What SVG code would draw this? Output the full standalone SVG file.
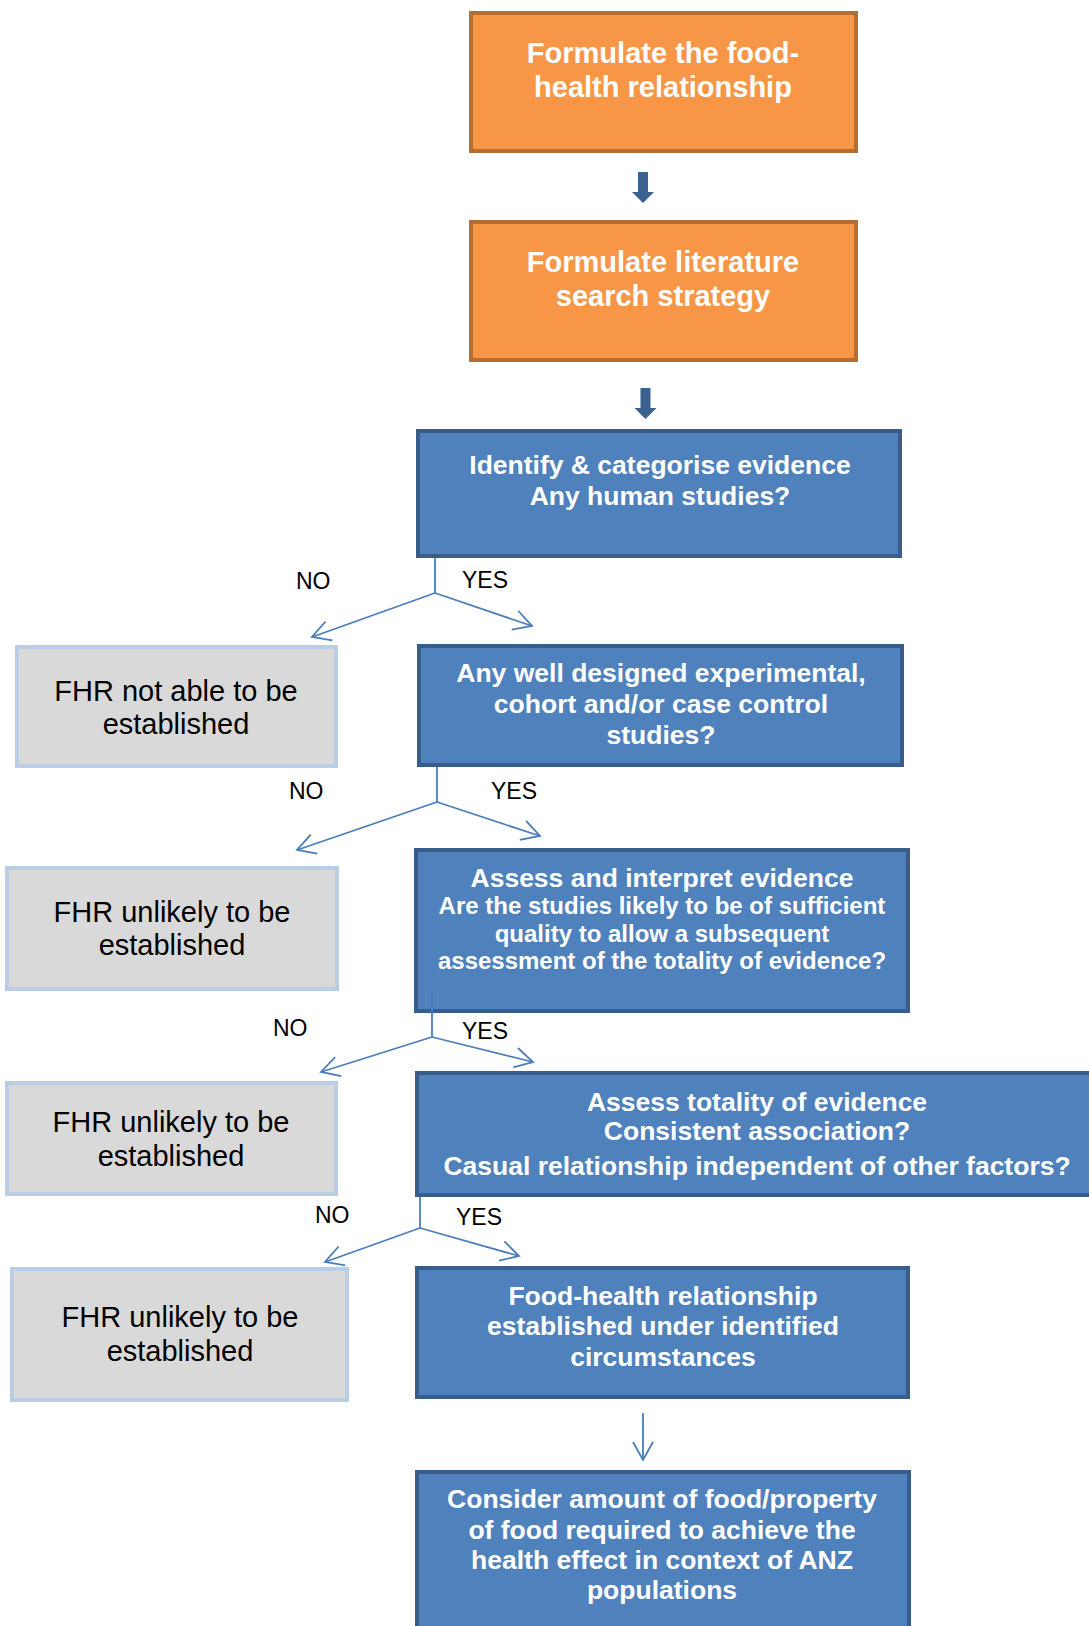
<svg xmlns="http://www.w3.org/2000/svg" width="1089" height="1626" viewBox="0 0 1089 1626">
<style>
text{font-family:"Liberation Sans",Arial,sans-serif}
.or{fill:#F79646;stroke:#B66D31;stroke-width:4}
.bl{fill:#4F81BD;stroke:#385D8A;stroke-width:4}
.gr{fill:#D9D9D9;stroke:#B9CDE5;stroke-width:4}
.wt{fill:#FFFFFF;font-weight:bold;text-anchor:middle}
.t29{font-size:29px}
.t26{font-size:26.5px}
.t24{font-size:24px}
.gt{fill:#000000;font-size:29px;text-anchor:middle}
.lb{fill:#000000;font-size:23px}
.cn{fill:none;stroke:#4A7EBB;stroke-width:1.8}
.big{fill:#3B6190}
</style>
<defs>
<marker id="ah" viewBox="0 0 22 22" refX="20" refY="11" markerWidth="22" markerHeight="22" markerUnits="userSpaceOnUse" orient="auto">
<path d="M2,1 L20,11 L2,21" fill="none" stroke="#4A7EBB" stroke-width="1.8"/>
</marker>
</defs>
<rect width="1089" height="1626" fill="#FFFFFF"/>

<g id="n1">
<rect class="or" x="471" y="13" width="385" height="138"/>
<text class="wt t29" x="663" y="63">Formulate the food-</text>
<text class="wt t29" x="663" y="97">health relationship</text>
</g>
<g id="n2">
<rect class="or" x="471" y="222" width="385" height="138"/>
<text class="wt t29" x="663" y="272">Formulate literature</text>
<text class="wt t29" x="663" y="306">search strategy</text>
</g>
<g id="n3">
<rect class="bl" x="418" y="431" width="482" height="125"/>
<text class="wt t26" x="660" y="474">Identify &amp; categorise evidence</text>
<text class="wt t26" x="660" y="505">Any human studies?</text>
</g>
<g id="n4">
<rect class="gr" x="17" y="647" width="319" height="119"/>
<text class="gt" x="176" y="701">FHR not able to be</text>
<text class="gt" x="176" y="734">established</text>
</g>
<g id="n5">
<rect class="bl" x="419" y="646" width="483" height="119"/>
<text class="wt t26" x="661" y="682">Any well designed experimental,</text>
<text class="wt t26" x="661" y="713">cohort and/or case control</text>
<text class="wt t26" x="661" y="744">studies?</text>
</g>
<g id="n6">
<rect class="gr" x="7" y="868" width="330" height="121"/>
<text class="gt" x="172" y="922">FHR unlikely to be</text>
<text class="gt" x="172" y="955">established</text>
</g>
<g id="n7">
<rect class="bl" x="416" y="850" width="492" height="161"/>
<text class="wt t26" x="662" y="887">Assess and interpret evidence</text>
<text class="wt t24" x="662" y="914">Are the studies likely to be of sufficient</text>
<text class="wt t24" x="662" y="942">quality to allow a subsequent</text>
<text class="wt t24" x="662" y="969">assessment of the totality of evidence?</text>
</g>
<g id="n8">
<rect class="gr" x="7" y="1083" width="329" height="111"/>
<text class="gt" x="171" y="1132">FHR unlikely to be</text>
<text class="gt" x="171" y="1166">established</text>
</g>
<g id="n9">
<rect class="bl" x="417" y="1073" width="680" height="122"/>
<text class="wt t26" x="757" y="1111">Assess totality of evidence</text>
<text class="wt t26" x="757" y="1140">Consistent association?</text>
<text class="wt t26" x="757" y="1175">Casual relationship independent of other factors?</text>
</g>
<g id="n10">
<rect class="gr" x="12" y="1269" width="335" height="131"/>
<text class="gt" x="180" y="1327">FHR unlikely to be</text>
<text class="gt" x="180" y="1361">established</text>
</g>
<g id="n11">
<rect class="bl" x="417" y="1268" width="491" height="129"/>
<text class="wt t26" x="663" y="1305">Food-health relationship</text>
<text class="wt t26" x="663" y="1335">established under identified</text>
<text class="wt t26" x="663" y="1366">circumstances</text>
</g>
<g id="n12">
<rect class="bl" x="417" y="1472" width="492" height="170"/>
<text class="wt t26" x="662" y="1508">Consider amount of food/property</text>
<text class="wt t26" x="662" y="1539">of food required to achieve the</text>
<text class="wt t26" x="662" y="1569">health effect in context of ANZ</text>
<text class="wt t26" x="662" y="1599">populations</text>
</g>

<g id="connectors">
<path class="big" d="M638,172 L648,172 L648,192 L654,192 L643,203 L632,192 L638,192 Z"/>
<path class="big" d="M640.5,388 L650.5,388 L650.5,408 L656.5,408 L645.5,419 L634.5,408 L640.5,408 Z"/>

<path class="cn" d="M435,558 V593"/>
<path class="cn" d="M435,593 L312,637" marker-end="url(#ah)"/>
<path class="cn" d="M435,593 L532,626" marker-end="url(#ah)"/>
<text class="lb" x="296" y="589">NO</text>
<text class="lb" x="462" y="588">YES</text>

<path class="cn" d="M437,767 V802"/>
<path class="cn" d="M437,802 L297,850" marker-end="url(#ah)"/>
<path class="cn" d="M437,802 L540,836" marker-end="url(#ah)"/>
<text class="lb" x="289" y="799">NO</text>
<text class="lb" x="491" y="799">YES</text>

<path class="cn" d="M432,992 V1037"/>
<path class="cn" d="M432,1037 L321,1072" marker-end="url(#ah)"/>
<path class="cn" d="M432,1037 L533,1062" marker-end="url(#ah)"/>
<text class="lb" x="273" y="1036">NO</text>
<text class="lb" x="462" y="1039">YES</text>

<path class="cn" d="M420,1197 V1228"/>
<path class="cn" d="M420,1228 L325,1262" marker-end="url(#ah)"/>
<path class="cn" d="M420,1228 L519,1256" marker-end="url(#ah)"/>
<text class="lb" x="315" y="1223">NO</text>
<text class="lb" x="456" y="1225">YES</text>

<path class="cn" d="M643,1413 V1460" marker-end="url(#ah)"/>
</g>
</svg>
